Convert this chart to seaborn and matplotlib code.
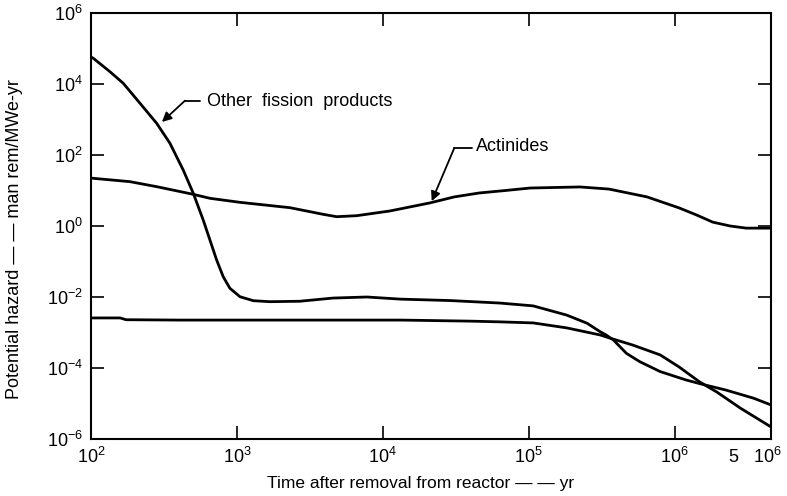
import numpy as np
import pandas as pd
import matplotlib
matplotlib.use("Agg")
import matplotlib.pyplot as plt
import matplotlib.transforms as mtransforms
import seaborn as sns

# ---- data (log10 values) ----
fp_logt = [2.0, 2.016, 2.130, 2.221, 2.336, 2.450, 2.541, 2.632, 2.701, 2.769,
           2.815, 2.861, 2.906, 2.952, 3.021, 3.112, 3.226, 3.43, 3.658, 3.89,
           4.12, 4.46, 4.80, 5.03, 5.26, 5.40, 5.49, 5.53, 5.58, 5.67, 5.76,
           5.90, 6.08, 6.19, 6.35, 6.54, 6.66]
fp_logh = [4.76, 4.724, 4.346, 4.020, 3.456, 2.893, 2.330, 1.577, 0.921, 0.169,
           -0.394, -0.958, -1.428, -1.755, -1.992, -2.104, -2.132, -2.12, -2.03, -2.00,
           -2.06, -2.10, -2.17, -2.25, -2.51, -2.74, -2.98, -3.07, -3.21, -3.59, -3.82,
           -4.10, -4.34, -4.46, -4.62, -4.85, -5.04]

act_logt = [2.0, 2.016, 2.267, 2.45, 2.70, 2.815, 3.02, 3.363, 3.59, 3.683, 3.82,
            4.048, 4.322, 4.49, 4.66, 4.84, 5.01, 5.35, 5.55, 5.81, 6.03, 6.15,
            6.26, 6.38, 6.49, 6.66]
act_logh = [1.35, 1.343, 1.249, 1.108, 0.893, 0.78, 0.667, 0.516, 0.33, 0.262, 0.29,
            0.423, 0.65, 0.82, 0.93, 1.00, 1.07, 1.10, 1.04, 0.82, 0.51, 0.31,
            0.11, 0.0, -0.06, -0.06]

low_logt = [2.0, 2.2, 2.24, 2.6, 3.0, 3.5, 4.12, 4.6, 4.80, 5.03, 5.26, 5.49,
            5.55, 5.71, 5.90, 6.03, 6.17, 6.29, 6.45, 6.66]
low_logh = [-2.59, -2.59, -2.64, -2.65, -2.65, -2.65, -2.65, -2.68, -2.70, -2.73,
            -2.87, -3.07, -3.15, -3.35, -3.63, -3.97, -4.39, -4.68, -5.13, -5.66]

xtick_vals = [1e2, 1e3, 1e4, 1e5, 1e6, 10 ** 6.66]
xtick_labels = ["$10^2$", "$10^3$", "$10^4$", "$10^5$", "$10^6$", "5   $10^6$"]
ytick_vals = [1e-6, 1e-4, 1e-2, 1e0, 1e2, 1e4, 1e6]
ytick_labels = ["$10^{-6}$", "$10^{-4}$", "$10^{-2}$", "$10^{0}$", "$10^{2}$",
                "$10^{4}$", "$10^{6}$"]

# ---- style ----
sns.set_theme(style="ticks")
plt.rcParams["font.family"] = ["Liberation Sans", "DejaVu Sans"]
plt.rcParams["mathtext.fontset"] = "custom"
plt.rcParams["mathtext.rm"] = "Liberation Sans"
plt.rcParams["mathtext.it"] = "Liberation Sans:italic"
plt.rcParams["mathtext.bf"] = "Liberation Sans:bold"

fig = plt.figure(figsize=(7.87, 4.96), dpi=100)
ax = fig.add_axes([91 / 787, 1 - 439 / 496, 680 / 787, 426 / 496])

def frame(lt, lh, name):
    return pd.DataFrame({"t": np.power(10.0, lt), "h": np.power(10.0, lh), "s": name})

for lt, lh, name in [(fp_logt, fp_logh, "fp"), (act_logt, act_logh, "act"),
                     (low_logt, low_logh, "low")]:
    sns.lineplot(data=frame(lt, lh, name), x="t", y="h", sort=False, estimator=None,
                 color="black", lw=2.0, ax=ax)

ax.set_xscale("log")
ax.set_yscale("log")
ax.set_xlim(1e2, 10 ** 6.66)
ax.set_ylim(1e-6, 1e6)
ax.minorticks_off()
ax.set_xticks(xtick_vals)
ax.set_xticklabels(xtick_labels)
ax.set_yticks(ytick_vals)
ax.set_yticklabels(ytick_labels)
ax.tick_params(axis="both", which="major", direction="in", length=9.5, width=1.2,
               top=True, right=True, labelsize=13, pad=6, color="black",
               labelcolor="black")
for sp in ax.spines.values():
    sp.set_linewidth(1.5)
    sp.set_color("black")

# shift the combined right-end label
lbl = ax.get_xticklabels()[-1]
lbl.set_transform(lbl.get_transform() +
                  mtransforms.ScaledTranslation(-0.16, 0, fig.dpi_scale_trans))

ax.set_xlabel("Time after removal from reactor — — yr", fontsize=12.5, color="black")
ax.set_ylabel("Potential hazard — — man rem/MWe-yr", fontsize=13, color="black")
ax.xaxis.set_label_coords(0.485, -0.088)
ax.yaxis.set_label_coords(-0.1, 0.47)

# annotations
arrow = dict(arrowstyle="-|>", color="black", lw=1.3, mutation_scale=14,
             shrinkA=0, shrinkB=0)
ax.plot([10 ** 2.644, 10 ** 2.75], [10 ** 3.53, 10 ** 3.53], color="black", lw=1.3)
ax.annotate("", xy=(10 ** 2.486, 10 ** 2.93), xytext=(10 ** 2.644, 10 ** 3.53),
            arrowprops=arrow)
ax.text(10 ** 2.795, 10 ** 3.5, "Other  fission  products", fontsize=13,
        va="center", ha="left", color="black")

ax.plot([10 ** 4.49, 10 ** 4.61], [10 ** 2.2, 10 ** 2.2], color="black", lw=1.3)
ax.annotate("", xy=(10 ** 4.335, 10 ** 0.70), xytext=(10 ** 4.49, 10 ** 2.2),
            arrowprops=arrow)
ax.text(10 ** 4.64, 10 ** 2.23, "Actinides", fontsize=13, va="center",
        ha="left", color="black")

fig.savefig("out.png", dpi=100)
